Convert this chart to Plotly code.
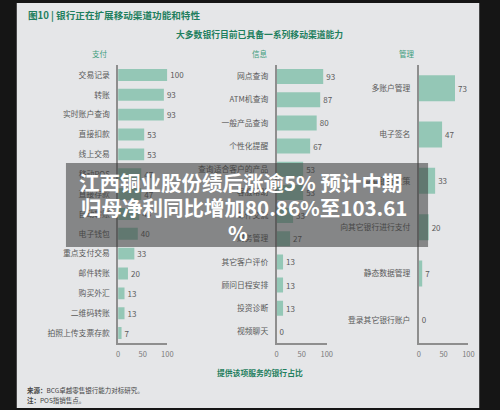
import plotly.graph_objects as go

# ---- data ----
pay_cats = ["交易记录", "转账", "实时账户查询", "直接扣款", "线上交易", "移动POS", "直接存款",
            "自动转账", "电子钱包", "重点支付交易", "邮件转账", "购买外汇", "二维码转账", "拍照上传支票存款"]
pay_vals = [100, 93, 93, 53, 53, 47, 47, 43, 40, 33, 20, 13, 13, 7]

info_cats = ["网点查询", "ATM机查询", "一般产品查询", "个性化提醒", "查询适合客户的产品", "客服帮助",
             "邮件交流", "财务管理", "其它客户评价", "顾问日程安排", "投资诊断", "视频聊天"]
info_vals = [93, 87, 80, 67, 53, 53, 33, 27, 13, 13, 13, 0]

mgmt_cats = ["多账户管理", "电子签名", "查看银行政策", "向其它银行进行支付", "静态数据管理", "登录其它银行账户"]
mgmt_vals = [73, 47, 33, 20, 7, 0]

x_ticks = [0, 50, 100]

W, H = 500, 410
FONT = "Noto Sans CJK SC"
BAR = "#94c7b6"
GREEN = "#1f7f5e"
GREEN2 = "#3d9c7c"
GRAY_TXT = "#5a5a5a"
AXIS = "#8e8e8e"

def px(x):
    return x / W

def py(y):
    return 1 - y / H

fig = go.Figure()

panels = [
    (pay_cats, pay_vals, "x", "y", 118, 168, 0.4),
    (info_cats, info_vals, "x2", "y2", 279, 330, 0.35),
    (mgmt_cats, mgmt_vals, "x3", "y3", 423.5, 474, 0.44),
]

ydom = [py(343), py(65)]
for i, (cats, vals, xa, ya, x0, x1, gap) in enumerate(panels):
    fig.add_trace(go.Bar(
        x=vals, y=cats, orientation="h", xaxis=xa, yaxis=ya,
        marker=dict(color=BAR, line=dict(width=0)),
        text=[str(v) for v in vals], textposition="outside",
        textfont=dict(family=FONT, size=8, color=GRAY_TXT),
        cliponaxis=False, showlegend=False, hoverinfo="skip",
    ))
    sfx = "" if i == 0 else str(i + 1)
    fig.layout["xaxis" + sfx] = dict(
        domain=[px(x0), px(x1)], range=[0, 100], anchor="y" + sfx,
        tickvals=x_ticks, ticktext=[str(t) for t in x_ticks],
        tickfont=dict(family=FONT, size=7.5, color="#7a7a7a"),
        showline=True, linecolor=AXIS, linewidth=1.5, showgrid=False,
        zeroline=False, ticks="", fixedrange=True,
    )
    fig.layout["yaxis" + sfx] = dict(
        domain=ydom, anchor="x" + sfx, autorange="reversed",
        categoryorder="array", categoryarray=cats,
        tickfont=dict(family=FONT, size=7.8, color=GRAY_TXT),
        showline=True, linecolor=AXIS, linewidth=1.5, showgrid=False,
        ticks="", ticklabelstandoff=5, zeroline=False, fixedrange=True,
    )
    fig.layout["xaxis" + sfx]["ticklabelstandoff"] = 3
fig.update_traces(selector=dict(type="bar"))
fig.data[0].update(width=0.6)
fig.data[1].update(width=0.65)
fig.data[2].update(width=0.56)

shapes = [
    dict(type="rect", xref="paper", yref="paper", x0=px(15), x1=px(485), y0=py(408), y1=py(3),
         fillcolor="#e5e6e8", line=dict(width=0), layer="below"),
    dict(type="rect", xref="paper", yref="paper", x0=px(65), x1=px(433), y0=py(247), y1=py(163),
         fillcolor="rgba(55,55,55,0.55)", line=dict(width=0), layer="above"),
]

ann = []
def txt(x, y, s, size, color, bold=False, xanchor="center"):
    ann.append(dict(x=px(x), y=py(y), xref="paper", yref="paper", text=(f"<b>{s}</b>" if bold else s),
                    showarrow=False, xanchor=xanchor, yanchor="middle",
                    font=dict(family=FONT, size=size, color=color)))

txt(24, 15, "图10 | 银行正在扩展移动渠道功能和特性", 9.6, GREEN, bold=True, xanchor="left")
txt(262, 35, "大多数银行目前已具备一系列移动渠道能力", 8.8, GREEN, bold=True)
txt(100, 53, "支付", 7.5, GREEN2)
txt(262, 53, "信息", 7.5, GREEN2)
txt(412, 53, "管理", 7.5, GREEN2)
txt(262, 372, "提供该项服务的银行占比", 7.8, GREEN, bold=True)
txt(23, 390, "<b>来源：</b>BCG卓越零售银行能力对标研究。", 6.5, "#444444", xanchor="left")
txt(23, 400, "<b>注：</b>POS指销售点。", 6.5, "#444444", xanchor="left")

txt(243, 182, "江西铜业股份绩后涨逾5% 预计中期", 20.5, "white", bold=True)
txt(246, 207, "归母净利同比增加80.86%至103.61", 20.5, "white", bold=True)
txt(240, 232, "%", 20.5, "white", bold=True)

fig.update_layout(
    width=W, height=H, margin=dict(l=0, r=0, t=0, b=0),
    paper_bgcolor="#151515", plot_bgcolor="rgba(0,0,0,0)",
    shapes=shapes, annotations=ann, bargap=0.4,
    font=dict(family=FONT),
)

fig.write_html("out.html", config={"displayModeBar": False})
